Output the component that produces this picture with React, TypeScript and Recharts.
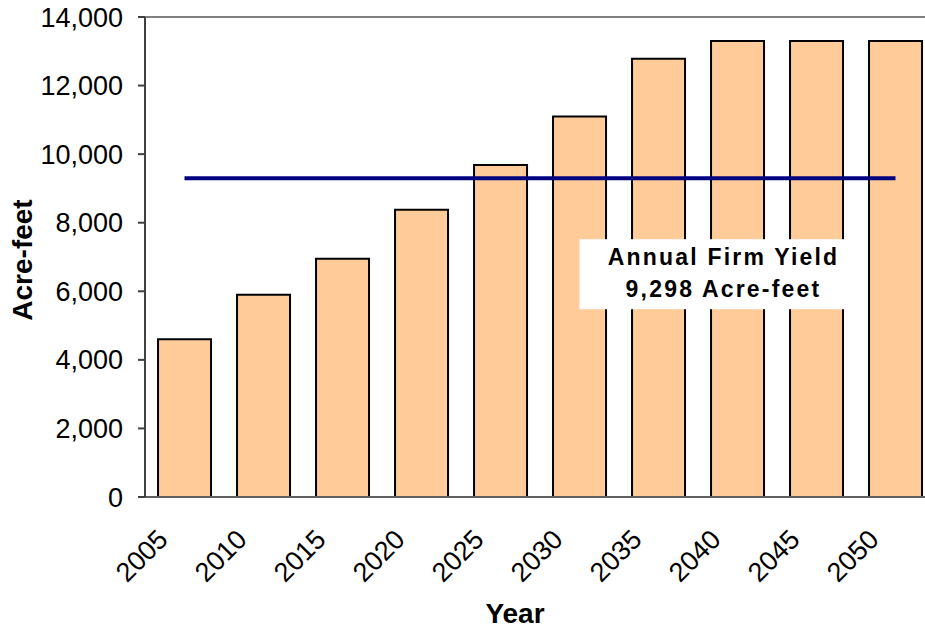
import { ComposedChart, Bar, Line, XAxis, YAxis, ReferenceLine, Label, LabelList } from 'recharts';

const years = ['2005', '2010', '2015', '2020', '2025', '2030', '2035', '2040', '2045', '2050'];
const demand = [4600, 5900, 6950, 8380, 9680, 11100, 12780, 13300, 13300, 13300];
const firmYield = 9298;
const yTicks = [0, 2000, 4000, 6000, 8000, 10000, 12000, 14000];
const noteLines = ['Annual Firm Yield', '9,298 Acre-feet'];
// the note box hangs off the firm-yield line, starting at this year
const noteYear = '2030';

const data = years.map((year, i) => ({ year, demand: demand[i], firmYield }));

const font = '"Liberation Sans", Arial, sans-serif';

const XTick = ({ x, y, payload }: any) => (
  <text
    x={x - 15}
    y={y + 44}
    transform={`rotate(-45, ${x - 15}, ${y + 44})`}
    textAnchor="end"
    fontSize={27}
    fontFamily={font}
    fill="#000"
  >
    {payload.value}
  </text>
);

const Note = ({ x, y, index }: any) => {
  if (years[index] !== noteYear) return null;
  const top = y + 61;
  const w = 284;
  const cx = x + w / 2 + 2;
  return (
    <g>
      <rect x={x} y={top} width={w} height={70} fill="#fff" />
      <g fontFamily={font} fontWeight="bold" fontSize={23} fill="#000" textAnchor="middle" letterSpacing={2.2}>
        <text x={cx} y={top + 26}>{noteLines[0]}</text>
        <text x={cx} y={top + 58}>{noteLines[1]}</text>
      </g>
    </g>
  );
};

const YTitle = ({ viewBox }: any) => {
  const x = viewBox.x + 32;
  const y = viewBox.y + viewBox.height / 2 + 3;
  return (
    <text x={x} y={y} transform={`rotate(-90, ${x}, ${y})`} textAnchor="middle" fontSize={28} fontWeight="bold" fontFamily={font} fill="#000">
      Acre-feet
    </text>
  );
};

const XTitle = ({ viewBox }: any) => (
  <text x={viewBox.x + 370} y={viewBox.y + 126} textAnchor="middle" fontSize={28} fontWeight="bold" fontFamily={font} fill="#000">
    Year
  </text>
);

export default function App() {
  return (
    <div style={{ position: 'absolute', left: 0, top: 0, width: 925, height: 629, overflow: 'hidden', background: '#fff' }}>
      <ComposedChart
        width={945}
        height={629}
        data={data}
        margin={{ top: 17, right: 10, bottom: 0, left: 0 }}
        barCategoryGap="16.5%"
      >
        <XAxis
          dataKey="year"
          height={132}
          tick={<XTick />}
          tickLine={false}
          tickSize={0}
          tickMargin={0}
          axisLine={{ stroke: '#606060', strokeWidth: 2 }}
          interval={0}
        >
          <Label content={<XTitle />} />
        </XAxis>
        <YAxis
          width={145}
          domain={[0, 14000]}
          ticks={yTicks}
          interval={0}
          tickSize={7}
          tickMargin={15}
          tickFormatter={(v: number) => v.toLocaleString('en-US')}
          tick={{ fontSize: 27, fontFamily: font, fill: '#000' }}
          tickLine={{ stroke: '#404040', strokeWidth: 2 }}
          axisLine={{ stroke: '#404040', strokeWidth: 2 }}
        >
          <Label content={<YTitle />} />
        </YAxis>
        <ReferenceLine y={14000} stroke="#808080" strokeWidth={2} />
        <Bar dataKey="demand" fill="#FFCC99" stroke="#000" strokeWidth={2} isAnimationActive={false} />
        <Line
          dataKey="firmYield"
          stroke="#000080"
          strokeWidth={4}
          dot={false}
          activeDot={false}
          isAnimationActive={false}
        >
          <LabelList dataKey="firmYield" content={<Note />} />
        </Line>
      </ComposedChart>
    </div>
  );
}
